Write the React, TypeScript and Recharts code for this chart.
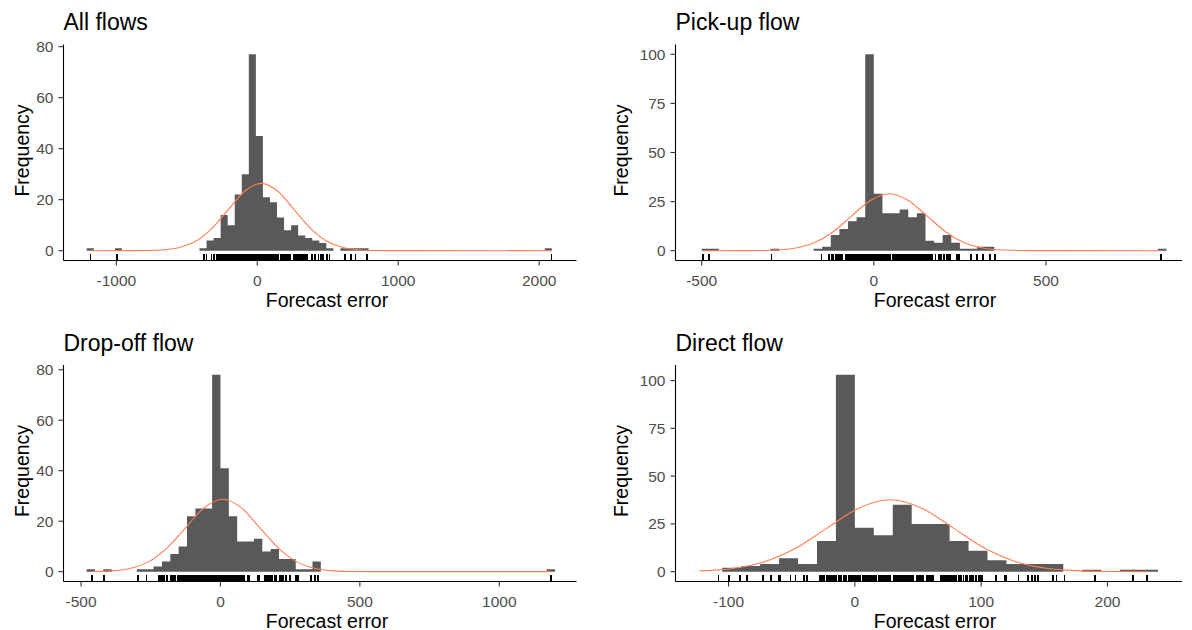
import React from 'react';
import { ComposedChart, Area, Line, Scatter, XAxis, YAxis } from 'recharts';

const FONT = '"Liberation Sans", Arial, Helvetica, sans-serif';

// ---------- All flows ----------
const allBinWidth = 50;
const allBinStarts = [-1210, -1010, -410, -360, -310, -260, -210, -160, -110, -60, -10, 40, 90, 140, 190, 240, 290, 340, 390, 440, 490, 590, 640, 690, 740, 2040];
const allCounts = [1, 1, 1, 4, 5, 14, 10, 22, 30, 77, 45, 21, 19, 13, 8, 10, 6, 5, 4, 3, 1, 1, 1, 1, 1, 1];
const allCurveX = [-1183, -912, -795, -677, -560, -442, -325, -207, -90, 28, 146, 263, 381, 498, 616, 733, 851, 968, 2087];
const allCurveY = [0, 0.01, 0.06, 0.29, 1.16, 3.57, 8.57, 16.0, 23.3, 26.4, 23.3, 16.0, 8.57, 3.57, 1.16, 0.29, 0.06, 0.01, 0];
const allRug = [-1183, -996, -379, -360, -325, -308,
  -289, -283, -277, -271, -265, -259, -253, -247, -241, -235, -229, -223, -217, -211, -205, -199, -193, -187, -181, -175, -169, -163, -159,
  -152, -146, -140, -134, -128, -122, -116, -110, -104, -98, -92, -86, -80, -74, -68, -62, -56, -50, -44, -38, -32, -26, -20, -14, -8, -2, 4, 10, 16, 22, 28, 34, 40, 46, 52, 58, 64, 70, 76, 82, 88, 94, 100, 106, 112, 118, 124, 130, 136, 142, 149,
  166, 172, 178, 184, 190, 196, 202, 208, 214, 220, 226, 232,
  263, 269, 275, 281, 287, 293, 299, 305, 311, 317, 323, 329, 335, 341, 344,
  356, 391, 410, 434, 453, 469, 493, 512, 624, 666, 697, 778, 2087];
const allXTicks = [-1000, 0, 1000, 2000];
const allYTicks = [0, 20, 40, 60, 80];

// ---------- Pick-up flow ----------
const pickBinWidth = 25;
const pickBinStarts = [-500, -475, -300, -175, -150, -125, -100, -75, -50, -25, 0, 25, 50, 75, 100, 125, 150, 175, 200, 225, 250, 275, 300, 325, 825];
const pickCounts = [1, 1, 1, 1, 2, 8, 11, 15, 17, 100, 29, 19, 19, 21, 17, 19, 5, 4, 8, 4, 1, 1, 2, 2, 1];
const pickCurveX = [-495, -395, -340, -285, -230, -175, -120, -65, -10, 45, 100, 155, 210, 265, 320, 375, 430, 485, 835];
const pickCurveY = [0, 0.01, 0.06, 0.32, 1.27, 3.92, 9.42, 17.6, 25.6, 29.0, 25.6, 17.6, 9.42, 3.92, 1.27, 0.32, 0.06, 0.01, 0];
const pickRug = [-495, -479, -297, -152, -131, -123, -118,
  -109, -106, -103, -100, -97, -94, -92,
  -82, -79, -76, -73, -70, -67, -64, -61, -55, -52, -49, -46, -43, -40,
  -34, -31, -28, -25,
  -19, -16, -13, -10, -7, -4, -1, 0, 2, 5, 8, 11, 14, 17, 20, 23, 26, 29,
  34, 37, 40, 43, 46, 48,
  55, 58, 61, 64, 67, 70, 73, 76, 79, 82, 85, 88, 91, 94, 97, 100, 103, 106, 109, 112, 115, 118, 121, 124, 127, 130, 133, 136, 139, 142, 145, 148, 151, 154, 157, 160, 162,
  169, 179, 189, 195, 203, 213, 219, 222, 242, 247, 282, 300, 317, 338, 353, 835];
const pickXTicks = [-500, 0, 500];
const pickYTicks = [0, 25, 50, 75, 100];

// ---------- Drop-off flow ----------
const dropBinWidth = 30;
const dropBinStarts = [-480, -420, -300, -270, -240, -210, -180, -150, -120, -90, -60, -30, 0, 30, 60, 90, 120, 150, 180, 210, 240, 270, 300, 330, 1170];
const dropCounts = [1, 1, 1, 1, 2, 4, 7, 10, 22, 25, 25, 78, 41, 22, 12, 12, 13, 8, 9, 5, 5, 1, 1, 4, 1];
const dropCurveX = [-462, -391, -325, -258, -192, -125, -59, 8, 75, 141, 208, 274, 341, 407, 474, 540, 1186];
const dropCurveY = [0.06, 0.32, 1.26, 3.88, 9.32, 17.4, 25.3, 28.7, 25.3, 17.4, 9.32, 3.88, 1.26, 0.32, 0.06, 0.01, 0];
const dropRug = [-462, -417, -295, -265, -222, -218, -214, -210, -207, -201, -193, -177, -173, -169, -165, -161, -153, -149, -145, -141, -137, -133, -129, -125,
  -117, -113, -110, -106, -103, -99, -96, -92, -89, -85, -82, -78, -75, -71, -68, -64, -61, -57, -54, -50, -47, -43, -40, -36, -33, -29, -26, -22, -19, -15, -12, -8, -5, -1, 0, 2, 6, 9, 13, 16, 20, 23, 27, 30, 34, 37, 41, 44, 48, 51, 55, 58, 62, 65, 69, 72, 76, 79, 83, 86,
  98, 104, 134, 140, 158, 162, 166, 170, 174, 178, 182, 186, 194, 200, 212, 216, 220, 224, 236, 248, 272, 278, 326, 338, 350, 1186];
const dropXTicks = [-500, 0, 500, 1000];
const dropYTicks = [0, 20, 40, 60, 80];

// ---------- Direct flow ----------
const directBinWidth = 15;
const directBinStarts = [-105, -90, -75, -60, -45, -30, -15, 0, 15, 30, 45, 60, 75, 90, 105, 120, 135, 150, 180, 210, 225];
const directCounts = [2, 3, 4, 7, 4, 16, 103, 23, 19, 35, 25, 25, 16, 11, 6, 4, 4, 4, 1, 1, 1];
const directCurveX = [-123, -97, -72, -47, -22, 3, 28, 53, 78, 103, 128, 153, 178, 203, 231];
const directCurveY = [0.4, 1.65, 5.09, 12.2, 22.8, 33.2, 37.6, 33.2, 22.8, 12.2, 5.09, 1.65, 0.42, 0.08, 0.01];
const directRug = [-108, -99.5, -91, -85.5, -73, -66.5, -60, -59, -51, -47, -40, -37.6,
  -28, -27, -26, -25, -24, -22, -21, -20, -19, -18, -17, -16, -15, -13, -12, -11, -9, -8, -7, -5, -4, -3, -2, -1, 0, 1, 2, 3, 4, 6, 7, 8, 9, 10, 11, 12, 13, 14, 15, 16, 17, 19, 20, 21, 22, 23, 24, 25, 26, 27, 28,
  31, 32, 33, 34, 35, 36, 37, 38, 39, 40, 41, 42, 43, 44, 45, 46,
  49, 50, 51, 52, 53, 54,
  57, 58, 59, 60, 61, 62,
  68, 69, 70, 71, 72, 73, 74, 75, 76, 77, 78, 79, 80,
  82, 83, 84, 86, 88, 89, 91, 93, 94, 96, 98, 99, 100.5,
  112, 119, 120, 129.5, 137, 140, 142.6, 145, 157, 159.7, 166, 190, 220, 231];
const directXTicks = [-100, 0, 100, 200];
const directYTicks = [0, 25, 50, 75, 100];

// ---------- helpers ----------
function buildHist(starts: number[], counts: number[], bw: number) {
  const pts: { x: number; y: number }[] = [];
  starts.forEach((s, i) => {
    pts.push({ x: s, y: counts[i] });
    pts.push({ x: s + bw, y: 0 });
  });
  return pts;
}
function buildCurve(xs: number[], ys: number[]) {
  return xs.map((x, i) => ({ x, y: ys[i] }));
}
function buildRug(xs: number[], yMin: number) {
  return xs.map((x) => ({ x, y: yMin }));
}

const RugTick = (props: any) => {
  const { cx, cy } = props;
  if (cx == null || cy == null || isNaN(cx) || isNaN(cy)) return <g />;
  return <line x1={cx} x2={cx} y1={cy} y2={cy - 7} stroke="#000" strokeWidth={1.8} shapeRendering="crispEdges" />;
};

type PanelProps = {
  left: number; top: number; width: number; height: number;
  margin: { top: number; right: number; bottom: number; left: number };
  yAxisWidth: number;
  xDomain: [number, number]; yDomain: [number, number];
  xTicks: number[]; yTicks: number[];
  hist: { x: number; y: number }[];
  curve: { x: number; y: number }[];
  rug: { x: number; y: number }[];
};

const tickStyle = { fill: '#4D4D4D', fontSize: 15.5, fontFamily: FONT };

function Panel(p: PanelProps) {
  return (
    <div style={{ position: 'absolute', left: p.left, top: p.top, width: p.width, height: p.height }}>
      <ComposedChart width={p.width} height={p.height} margin={p.margin}>
        <XAxis
          type="number" dataKey="x" domain={p.xDomain} allowDataOverflow ticks={p.xTicks} interval={0}
          tick={tickStyle} tickSize={5} tickMargin={9} height={40}
          axisLine={{ stroke: '#000', strokeWidth: 1.1 }} tickLine={{ stroke: '#333', strokeWidth: 1.1 }}
        />
        <YAxis
          type="number" domain={p.yDomain} allowDataOverflow ticks={p.yTicks} interval={0}
          tick={tickStyle} tickSize={5} tickMargin={5} width={p.yAxisWidth}
          axisLine={{ stroke: '#000', strokeWidth: 1.1 }} tickLine={{ stroke: '#333', strokeWidth: 1.1 }}
        />
        <Area data={p.hist} dataKey="y" type="stepAfter" baseValue={0} fill="#595959" fillOpacity={1}
          stroke="none" dot={false} activeDot={false} isAnimationActive={false} />
        <Line data={p.curve} dataKey="y" type="monotone" stroke="#FF7F50" strokeWidth={1.1}
          dot={false} activeDot={false} isAnimationActive={false} />
        <Scatter data={p.rug} dataKey="y" shape={RugTick} isAnimationActive={false} />
      </ComposedChart>
    </div>
  );
}

const titleStyle = { fontFamily: FONT, fontSize: 23, fill: '#000' } as const;
const axisTitleStyle = { fontFamily: FONT, fontSize: 19.5, fill: '#000' } as const;

export default function App() {
  const topMargin = { top: 44.5, right: 23.5, bottom: 19.5, left: 0 };
  const topMarginR = { top: 44.5, right: 10, bottom: 19.5, left: 0 };
  const botMargin = { top: 45, right: 23.5, bottom: 8.5, left: 0 };
  const botMarginR = { top: 45, right: 10, bottom: 8.5, left: 0 };
  const allY: [number, number] = [-3.85, 80.85];
  const pickY: [number, number] = [-5, 105];
  const dropY: [number, number] = [-3.9, 81.9];
  const directY: [number, number] = [-5.15, 108.15];
  return (
    <div style={{ position: 'absolute', left: 0, top: 0, width: 1192, height: 630, background: '#fff', overflow: 'hidden' }}>
      <Panel left={0} top={0} width={600} height={320} margin={topMargin} yAxisWidth={63.5}
        xDomain={[-1375, 2265]} yDomain={allY} xTicks={allXTicks} yTicks={allYTicks}
        hist={buildHist(allBinStarts, allCounts, allBinWidth)} curve={buildCurve(allCurveX, allCurveY)} rug={buildRug(allRug, allY[0])} />
      <Panel left={600} top={0} width={592} height={320} margin={topMarginR} yAxisWidth={75.5}
        xDomain={[-576, 895]} yDomain={pickY} xTicks={pickXTicks} yTicks={pickYTicks}
        hist={buildHist(pickBinStarts, pickCounts, pickBinWidth)} curve={buildCurve(pickCurveX, pickCurveY)} rug={buildRug(pickRug, pickY[0])} />
      <Panel left={0} top={320} width={600} height={310} margin={botMargin} yAxisWidth={63.5}
        xDomain={[-563, 1277]} yDomain={dropY} xTicks={dropXTicks} yTicks={dropYTicks}
        hist={buildHist(dropBinStarts, dropCounts, dropBinWidth)} curve={buildCurve(dropCurveX, dropCurveY)} rug={buildRug(dropRug, dropY[0])} />
      <Panel left={600} top={320} width={592} height={310} margin={botMarginR} yAxisWidth={75.5}
        xDomain={[-142, 259]} yDomain={directY} xTicks={directXTicks} yTicks={directYTicks}
        hist={buildHist(directBinStarts, directCounts, directBinWidth)} curve={buildCurve(directCurveX, directCurveY)} rug={buildRug(directRug, directY[0])} />
      <svg width={1192} height={630} style={{ position: 'absolute', left: 0, top: 0, pointerEvents: 'none' }}>
        <text x={63.5} y={30} style={titleStyle}>All flows</text>
        <text x={675.5} y={30} style={titleStyle}>Pick-up flow</text>
        <text x={63.5} y={350.5} style={titleStyle}>Drop-off flow</text>
        <text x={675.5} y={350.5} style={titleStyle}>Direct flow</text>
        <text transform="translate(29,150.5) rotate(-90)" textAnchor="middle" style={axisTitleStyle}>Frequency</text>
        <text transform="translate(628,150.5) rotate(-90)" textAnchor="middle" style={axisTitleStyle}>Frequency</text>
        <text transform="translate(29,471) rotate(-90)" textAnchor="middle" style={axisTitleStyle}>Frequency</text>
        <text transform="translate(628,471) rotate(-90)" textAnchor="middle" style={axisTitleStyle}>Frequency</text>
        <text x={327} y={306.5} textAnchor="middle" style={axisTitleStyle}>Forecast error</text>
        <text x={935} y={306.5} textAnchor="middle" style={axisTitleStyle}>Forecast error</text>
        <text x={327} y={627.5} textAnchor="middle" style={axisTitleStyle}>Forecast error</text>
        <text x={935} y={627.5} textAnchor="middle" style={axisTitleStyle}>Forecast error</text>
      </svg>
    </div>
  );
}
